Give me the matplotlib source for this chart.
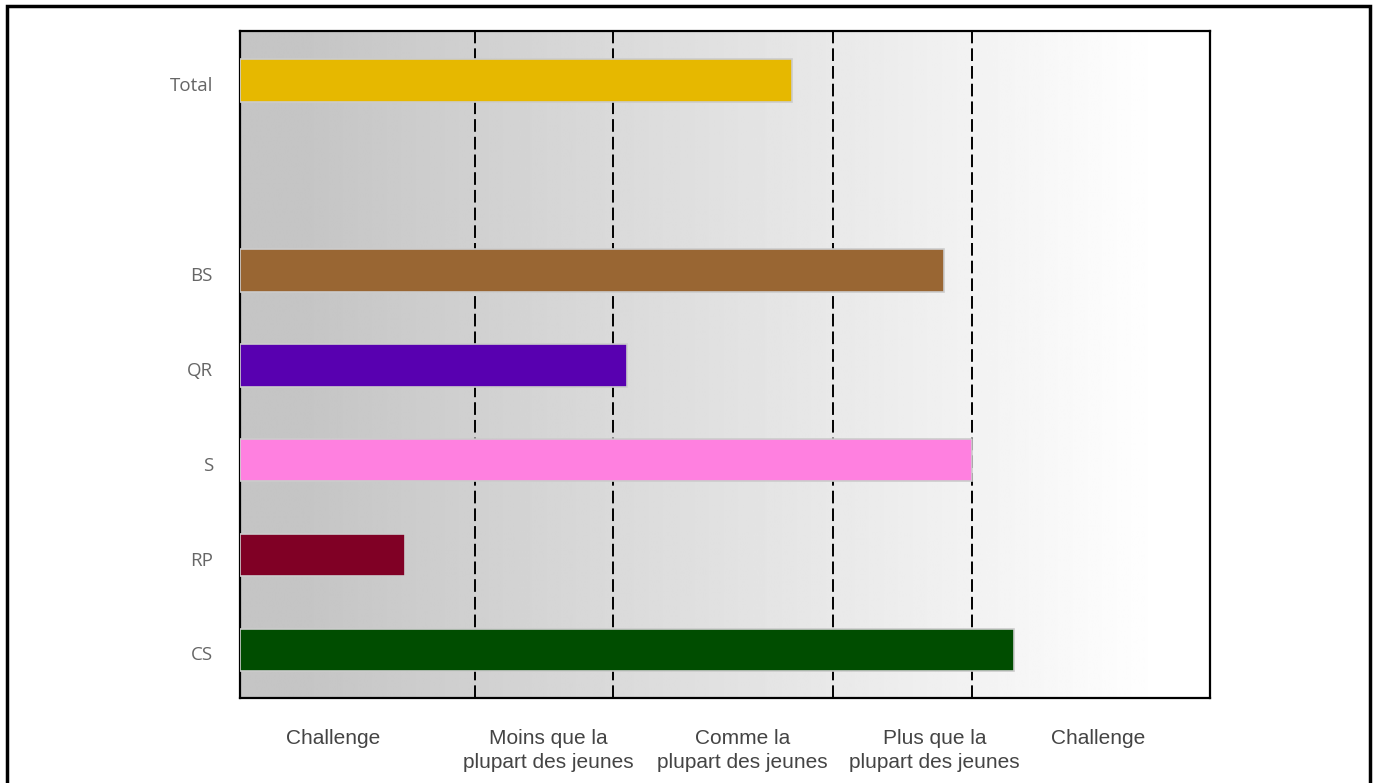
import matplotlib
matplotlib.use("Agg")
from matplotlib import pyplot as plt
from matplotlib.patches import Rectangle
import matplotlib.transforms as mtransforms
import numpy as np

# data (scale 0-100 across the plot width)
categories = ["Total", "", "BS", "QR", "S", "RP", "CS"]
values = [56.9, None, 72.6, 39.9, 75.5, 17.0, 79.8]
colors = ["#e6b800", None, "#996633", "#5800b0", "#ff80e0", "#800025", "#004d00"]
zone_lines = [24.2, 38.5, 61.1, 75.5]
zone_pos = [9.6, 31.8, 51.8, 71.6, 88.5]
zone_labels = ["Challenge", "Moins que la\nplupart des jeunes", "Comme la\nplupart des jeunes",
               "Plus que la\nplupart des jeunes", "Challenge"]

fig = plt.figure(figsize=(13.74, 7.83), dpi=100)
ax = fig.add_axes([240/1374, 85/783, 970/1374, 667/783])

# grey -> white background gradient
grad = np.clip(np.interp(np.linspace(0, 1, 400), [0, 0.06, 0.95, 1], [0.77, 0.77, 1.0, 1.0]), 0, 1)
ax.imshow(np.tile(grad, (2, 1)), cmap="gray", vmin=0, vmax=1, aspect="auto",
          extent=[0, 100, 6.506, -0.521], zorder=0, interpolation="bilinear")

for i, (v, c) in enumerate(zip(values, colors)):
    if v is None:
        continue
    ax.barh(i, v, height=0.45, color=c, edgecolor="#cccccc", linewidth=1.2, zorder=3)

for x in zone_lines:
    ax.axvline(x, color="black", lw=1.4, linestyle=(0, (6.5, 2.6)), zorder=2)

ax.set_xlim(0, 100)
ax.set_ylim(6.506, -0.521)
ax.set_yticks(range(len(categories)))
ax.set_yticklabels(categories, fontsize=13.5, color="#666666", family="Open Sans")
ax.set_xticks(zone_pos)
ax.set_xticklabels(zone_labels, fontsize=15, color="#444444", family="Liberation Sans",
                   linespacing=1.35)
ax.tick_params(axis="x", length=0, pad=22)
ax.tick_params(axis="y", length=0, pad=19.5)
# labels sit a little below the bar centres
shift = mtransforms.ScaledTranslation(0, -3.5/100, fig.dpi_scale_trans)
for lab in ax.get_yticklabels():
    lab.set_transform(lab.get_transform() + shift)
for s in ax.spines.values():
    s.set_linewidth(1.6)
    s.set_color("black")

# outer frame around the figure
fig.patches.append(Rectangle((7/1374, -0.05), 1363/1374, 1.05 - 6/783, transform=fig.transFigure,
                             fill=False, edgecolor="black", linewidth=2.5))

plt.savefig("out.png", dpi=100)
